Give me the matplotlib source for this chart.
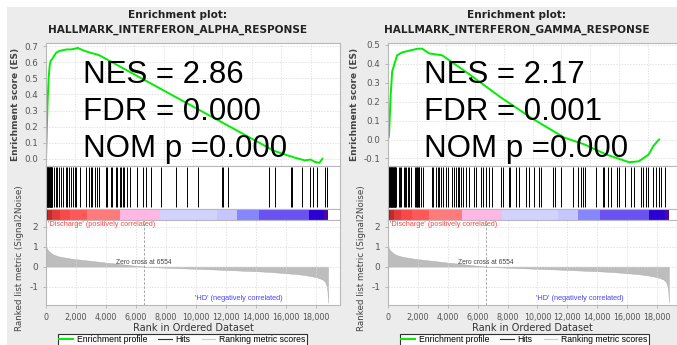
import matplotlib
matplotlib.use('Agg')
import matplotlib.pyplot as plt
from matplotlib.patches import Rectangle
from matplotlib.lines import Line2D
import numpy as np

# ranked list (same for both gene sets)
rank_pos = [0, 50, 150, 300, 500, 800, 1200, 1600, 2000, 2600, 3200, 4000, 4800, 5600, 6554,
            7500, 8500, 10000, 11500, 13000, 14000, 15000, 16000, 16800, 17400, 17900, 18200,
            18450, 18600, 18700, 18760, 18800]
rank_metric = [1.05, 0.92, 0.8, 0.7, 0.6, 0.52, 0.46, 0.41, 0.37, 0.32, 0.27, 0.2, 0.14, 0.07, 0.0,
               -0.04, -0.07, -0.11, -0.15, -0.2, -0.23, -0.27, -0.33, -0.38, -0.44, -0.51, -0.57,
               -0.65, -0.75, -0.95, -1.2, -1.8]
zero_cross = 6554

bar_edges = [0, 120, 400, 900, 1600, 2750, 4950, 7600, 11400, 12700, 14200, 17500, 18550, 18800]
bar_colors = ['#8c1c1c', '#c02a2a', '#e23a3a', '#f84848', '#ff5858', '#ff7a7a', '#ffb8e6',
              '#d2d2ff', '#c6c6ff', '#8686ff', '#6a52f2', '#2c00d2', '#4a0aa0']

# HALLMARK_INTERFERON_ALPHA_RESPONSE
alpha_rank = [0, 60, 120, 180, 250, 320, 420, 550, 700, 900, 1150, 1400, 1700, 2000, 2150, 2500,
              3000, 3600, 4500, 5500, 6500, 7700, 8700, 9500, 10500, 11500, 12500, 13500, 14500,
              15500, 16300, 17000, 17600, 18000, 18300, 18600, 18800]
alpha_es = [0.0, 0.2, 0.38, 0.5, 0.58, 0.61, 0.62, 0.64, 0.66, 0.67, 0.675, 0.68, 0.68, 0.685, 0.69,
            0.675, 0.66, 0.645, 0.6, 0.55, 0.5, 0.44, 0.39, 0.35, 0.3, 0.25, 0.2, 0.15, 0.1, 0.05,
            0.025, 0.005, -0.01, -0.005, -0.02, -0.025, 0.0]
alpha_hits = [15, 40, 65, 90, 115, 140, 165, 190, 215, 240, 265, 290, 315, 340, 365, 390, 415,
              533, 644, 756, 867, 1022, 1156, 1311, 1422, 1533, 1644, 1822, 1933, 2000, 2267, 2644,
              2867, 2978, 3089, 3244, 3378, 3533, 3978, 4089, 4311, 4422, 4644, 4756, 4933, 5022,
              5111, 5200, 5378, 5600, 6044, 6489, 6644, 7022, 7689, 8644, 9422, 10156, 11711,
              11778, 12156, 14889, 15267, 16311, 16400, 17044, 17600, 17778, 18044, 18578, 18756]

# HALLMARK_INTERFERON_GAMMA_RESPONSE
gamma_rank = [0, 70, 180, 290, 450, 630, 960, 1500, 2075, 2365, 2850, 3750, 5530, 7760, 10000,
              12200, 13560, 15130, 16690, 17360, 18030, 18360, 18580, 18760]
gamma_es = [0.0, 0.02, 0.23, 0.36, 0.4, 0.445, 0.46, 0.47, 0.48, 0.48, 0.455, 0.445, 0.35, 0.225,
            0.11, 0.01, -0.025, -0.08, -0.12, -0.115, -0.08, -0.035, -0.015, 0.0]
gamma_hits = [20, 45, 70, 95, 120, 145, 170, 195, 220, 245, 270, 295, 320, 345, 370, 395, 420, 445,
              470, 495, 520, 736, 803, 870, 1093, 1160, 1205, 1316, 1428, 1540, 1829, 1870, 1919,
              1960, 2008, 2050, 2097, 2209, 2320, 2945, 3035, 3213, 3324, 3436, 3548, 3704, 3882,
              3994, 4284, 4440, 4551, 4663, 4774, 4886, 4998, 5221, 5444, 5779, 5890, 6225, 6337,
              6560, 6783, 6961, 7564, 7675, 8077, 8166, 8568, 8791, 9237, 9415, 9772, 10084, 10218,
              11043, 11200, 11557, 12383, 12718, 12941, 13052, 13208, 13945, 14391, 14458, 14726,
              14904, 15351, 15440, 15886, 16288, 16466, 16912, 17068, 17291, 17403, 17738, 17961,
              18117, 18251, 18519]

W, H = 677, 345
fig = plt.figure(figsize=(W / 100, H / 100), dpi=100)
fig.patch.set_facecolor('white')
fig.patches.append(Rectangle((7 / W, 0), 1 - 7 / W, 1 - 7 / H, transform=fig.transFigure,
                             facecolor='#ececec', edgecolor='none', zorder=-10))


def box(x0, y0, x1, y1):
    return [x0 / W, 1 - y1 / H, (x1 - x0) / W, (y1 - y0) / H]


def style(ax):
    for s in ax.spines.values():
        s.set_color('#b8b8b8')
        s.set_linewidth(0.8)
    ax.set_facecolor('white')
    ax.tick_params(colors='#b0b0b0', labelcolor='#555555', length=2, width=0.6)


def panel(x0, x1, xmax, es_rank, es, hits, es_ylim, es_ticks, name, stats, cx, tx):
    ax1 = fig.add_axes(box(x0, 43, x1, 166))
    ax2 = fig.add_axes(box(x0, 166, x1, 209))
    ax3 = fig.add_axes(box(x0, 209, x1, 220))
    ax4 = fig.add_axes(box(x0, 220, x1, 305))
    for ax in (ax1, ax2, ax3, ax4):
        style(ax)
        ax.set_xlim(0, xmax)

    # enrichment score
    ax1.plot(es_rank, es, color='#00ee00', lw=1.4)
    ax1.set_ylim(*es_ylim)
    ax1.set_yticks(es_ticks)
    ax1.set_yticklabels(['%.1f' % t for t in es_ticks], fontsize=6.3)
    ax1.set_xticks(range(0, 20001, 2000))
    ax1.tick_params(axis='x', labelbottom=False, length=0)
    ax1.grid(True, color='#d8d8d8', ls=(0, (2, 2)), lw=0.5)
    ax1.set_ylabel('Enrichment score (ES)', fontsize=6.5, fontweight='bold', color='#444444',
                   labelpad=3)

    # hits
    ax2.vlines(hits, 0.05, 0.97, color='black', lw=0.7)
    ax2.set_ylim(0, 1)
    ax2.set_xticks([])
    ax2.set_yticks([])

    # colour bar
    ax3.bar(bar_edges[:-1], 1, width=np.diff(bar_edges), align='edge', color=bar_colors, lw=0)
    ax3.set_ylim(0, 1)
    ax3.set_xticks([])
    ax3.set_yticks([])

    # ranked metric
    ax4.fill_between(rank_pos, 0, rank_metric, color='#bdbdbd', lw=0.3, edgecolor='#aaaaaa')
    ax4.axvline(zero_cross, color='#999999', ls=(0, (3, 2)), lw=0.6)
    ax4.set_ylim(-1.92, 2.33)
    ax4.set_yticks([2, 1, 0, -1])
    ax4.set_yticklabels(['2', '1', '0', '-1'], fontsize=6.5)
    ax4.set_xticks(range(0, 18001, 2000))
    ax4.set_xticklabels(['{:,}'.format(t) for t in range(0, 18001, 2000)], fontsize=5.8)
    ax4.grid(True, color='#d8d8d8', ls=(0, (2, 2)), lw=0.5)
    ax4.set_xlabel('Rank in Ordered Dataset', fontsize=7, color='#333333', labelpad=1)
    ax4.set_ylabel('Ranked list metric (Signal2Noise)', fontsize=6.3, color='#444444', labelpad=4)
    ax4.yaxis.set_label_coords(-0.075, 0.55)
    ax4.text(150, 2.13, "'Discharge' (positively correlated)", color='#ff4444', fontsize=5.3,
             va='center', ha='left', family='Liberation Sans')
    ax4.text(zero_cross, 0.22, 'Zero cross at %d' % zero_cross, color='#444444', fontsize=4.8,
             va='center', ha='center', family='Liberation Sans')
    ax4.text(9900, -1.62, "'HD' (negatively correlated)", color='#4444ff', fontsize=5.3,
             va='center', ha='left', family='Liberation Sans')

    fig.text(cx / W, 1 - 15 / H, 'Enrichment plot:', ha='center', va='center', fontsize=7.6,
             fontweight='bold', color='#222222')
    fig.text(cx / W, 1 - 30 / H, name, ha='center', va='center', fontsize=7.6,
             fontweight='bold', color='#222222')
    for i, s in enumerate(stats):
        fig.text(tx / W, 1 - (83 + 37 * i) / H, s, ha='left', va='baseline', fontsize=22.5,
                 color='black', family='Liberation Sans')

    handles = [Line2D([], [], color='#00ee00', lw=1.4),
               Line2D([], [], color='#333333', lw=0.8),
               Line2D([], [], color='#cccccc', lw=0.8)]
    leg = fig.legend(handles, ['Enrichment profile', 'Hits', 'Ranking metric scores'],
                     loc='upper left', bbox_to_anchor=((x0 + 12) / W, 1 - 334 / H),
                     bbox_transform=fig.transFigure, ncol=3, frameon=True,
                     prop={'family': 'Liberation Sans', 'size': 6.2},
                     fancybox=False, handlelength=1.6, handletextpad=0.4, columnspacing=1.3,
                     borderpad=0.15, borderaxespad=0)
    leg.get_frame().set_edgecolor('black')
    leg.get_frame().set_linewidth(0.8)
    leg.get_frame().set_facecolor('white')


panel(46, 340, 19600, alpha_rank, alpha_es, alpha_hits, (-0.045, 0.72),
      [0.0, 0.1, 0.2, 0.3, 0.4, 0.5, 0.6, 0.7], 'HALLMARK_INTERFERON_ALPHA_RESPONSE',
      ['NES = 2.86', 'FDR = 0.000', 'NOM p =0.000'], 178, 83)
panel(388, 677, 19344, gamma_rank, gamma_es, gamma_hits, (-0.14, 0.51),
      [-0.1, 0.0, 0.1, 0.2, 0.3, 0.4, 0.5], 'HALLMARK_INTERFERON_GAMMA_RESPONSE',
      ['NES = 2.17', 'FDR = 0.001', 'NOM p =0.000'], 517, 424)

plt.savefig('out.png', dpi=100)
